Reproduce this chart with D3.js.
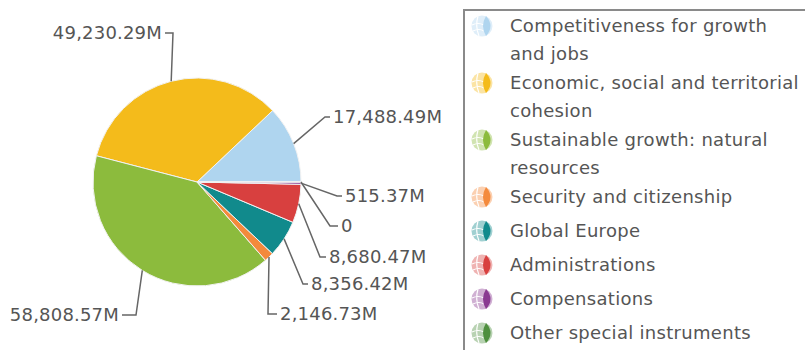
<!DOCTYPE html>
<html>
<head>
<meta charset="utf-8">
<script src="https://cdn.jsdelivr.net/npm/d3@7"></script>
<style>
  body { margin: 0; background: #fff; }
  svg { display: block; font-family: "DejaVu Sans", Verdana, sans-serif; }
</style>
</head>
<body>
<div class="chart"></div>
<script>
// data
const categories = [
    "Competitiveness for growth and jobs",
    "Economic, social and territorial cohesion",
    "Sustainable growth: natural resources",
    "Security and citizenship",
    "Global Europe",
    "Administrations",
    "Compensations",
    "Other special instruments"
];
const legendLines = [
    ["Competitiveness for growth", "and jobs"],
    ["Economic, social and territorial", "cohesion"],
    ["Sustainable growth: natural", "resources"],
    ["Security and citizenship"],
    ["Global Europe"],
    ["Administrations"],
    ["Compensations"],
    ["Other special instruments"]
];
const values = [17488.49, 49230.29, 58808.57, 2146.73, 8356.42, 8680.47, 515.37, 0];
const colors = ["#afd5ef", "#f4bb1b", "#8cbb3d", "#f48a3c", "#118a8c", "#d8403f", "#8a3a91", "#4e8f3e"];

// label placement (layout only): elbow point, end of horizontal tick, text anchor
const labelPos = [
    { ex: 325, ey: 117, hx: 330, anchor: "start" },
    { ex: 173, ey: 33, hx: 165, anchor: "end" },
    { ex: 136, ey: 315, hx: 122, anchor: "end" },
    { ex: 268, ey: 314, hx: 277, anchor: "start" },
    { ex: 303, ey: 284, hx: 308, anchor: "start" },
    { ex: 320, ey: 257, hx: 326, anchor: "start" },
    { ex: 337, ey: 196, hx: 342, anchor: "start" },
    { ex: 330, ey: 226, hx: 338, anchor: "start" }
];

const width = 805, height = 350;
const cx = 197, cy = 182, radius = 104;

const svg = d3.select(".chart")
    .append("svg")
    .attr("width", width)
    .attr("height", height);

const fmt = d => d === 0 ? "0" : d3.format(",.2f")(d) + "M";

const data = categories.map((c, i) => ({ name: c, value: values[i], color: colors[i], pos: labelPos[i] }));

// counter-clockwise from 3 o'clock
const pie = d3.pie()
    .value(d => d.value)
    .sort(null)
    .startAngle(Math.PI / 2)
    .endAngle(Math.PI / 2 - 2 * Math.PI);

const arcs = pie(data);

const arc = d3.arc().innerRadius(0).outerRadius(radius);

const g = svg.append("g").attr("transform", `translate(${cx},${cy})`);

g.selectAll("path")
    .data(arcs)
    .enter()
    .append("path")
    .attr("d", arc)
    .attr("fill", d => d.data.color)
    .attr("stroke", "#f2f2f2")
    .attr("stroke-width", 1);

// label connectors
function edgePoint(d) {
    const a = (d.startAngle + d.endAngle) / 2;
    return [cx + Math.sin(a) * radius, cy - Math.cos(a) * radius];
}

const labels = svg.append("g");

arcs.forEach(d => {
    const p = edgePoint(d);
    const pos = d.data.pos;
    const dir = pos.anchor === "start" ? 1 : -1;
    labels.append("polyline")
        .attr("points", [p, [pos.ex, pos.ey], [pos.hx, pos.ey]].map(q => q.join(",")).join(" "))
        .attr("fill", "none")
        .attr("stroke", "#666")
        .attr("stroke-width", 1.5);
    labels.append("text")
        .attr("x", pos.hx + dir * 3)
        .attr("y", pos.ey)
        .attr("dy", "0.36em")
        .attr("text-anchor", pos.anchor)
        .attr("font-size", 18)
        .attr("letter-spacing", 0.2)
        .attr("fill", "#555")
        .text(fmt(d.data.value));
});

// legend
const legend = svg.append("g");
legend.append("rect")
    .attr("x", 464)
    .attr("y", 10)
    .attr("width", 400)
    .attr("height", 400)
    .attr("fill", "none")
    .attr("stroke", "#8a8a8a")
    .attr("stroke-width", 2);

let ly = 26;
data.forEach((d, i) => {
    const ix = 482, iy = ly;
    const item = legend.append("g");
    const light = d3.interpolateRgb(d.color, "#fff")(0.6);
    item.append("circle")
        .attr("cx", ix)
        .attr("cy", iy)
        .attr("r", 10.5)
        .attr("fill", light);
    // white seams on the light part
    item.append("path")
        .attr("d", `M${ix - 10},${iy - 1} Q${ix - 4},${iy - 4} ${ix + 2},${iy - 1}
                    M${ix - 9},${iy + 5} Q${ix - 3},${iy + 2} ${ix + 2},${iy + 5}
                    M${ix - 4},${iy - 10} Q${ix - 7},${iy} ${ix - 3},${iy + 10}`)
        .attr("fill", "none")
        .attr("stroke", "#fff")
        .attr("stroke-width", 1.2);
    // dark lens on the right
    item.append("path")
        .attr("d", `M${ix + 4},${iy - 10} Q${ix - 2},${iy} ${ix + 4},${iy + 10} Q${ix + 13},${iy} ${ix + 4},${iy - 10}Z`)
        .attr("fill", d.color);

    legendLines[i].forEach((t, j) => {
        item.append("text")
            .attr("x", 510)
            .attr("y", ly + j * 28)
            .attr("dy", "0.36em")
            .attr("font-size", 18)
            .attr("letter-spacing", 0.3)
            .attr("fill", "#555")
            .text(t);
    });
    ly += 34 + 23 * (legendLines[i].length - 1);
});
</script>
</body>
</html>
